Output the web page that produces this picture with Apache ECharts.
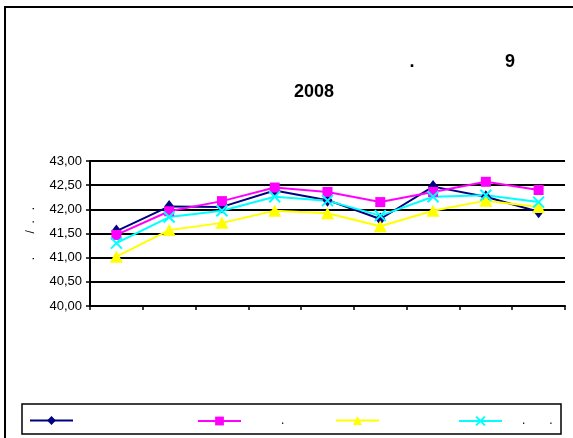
<!DOCTYPE html>
<html>
<head>
<meta charset="utf-8">
<script src="https://cdn.jsdelivr.net/npm/echarts@6/dist/echarts.min.js"></script>
<style>
  html, body { margin: 0; padding: 0; background: #fff; }
  #chart { width: 573px; height: 438px; }
</style>
</head>
<body>
<div id="chart"></div>
<script>
// months of 2008 (axis labels not readable in the picture)
const categories = ['1', '2', '3', '4', '5', '6', '7', '8', '9'];
const yTicks = [40, 40.5, 41, 41.5, 42, 42.5, 43];

const navyValues    = [41.55, 42.06, 42.05, 42.39, 42.19, 41.80, 42.47, 42.26, 41.95];
const magentaValues = [41.47, 41.96, 42.17, 42.45, 42.36, 42.15, 42.36, 42.57, 42.40];
const yellowValues  = [41.02, 41.57, 41.72, 41.97, 41.92, 41.65, 41.97, 42.18, 42.05];
const cyanValues    = [41.30, 41.84, 41.97, 42.26, 42.18, 41.87, 42.26, 42.29, 42.15];

const seriesNames = ['s1', 's2', 's3', 's4'];
const legendTexts = ['', '{a|.}', '', '{c|.}{b|.}'];

const font = 'Liberation Sans, Arial, sans-serif';

const chart = echarts.init(document.getElementById('chart'));

function line(name, data, color, symbol, size, extra) {
  return Object.assign({
    name: name,
    type: 'line',
    data: data,
    symbol: symbol,
    symbolSize: size,
    showSymbol: true,
    animation: false,
    lineStyle: { color: color, width: 2 },
    itemStyle: { color: color, borderColor: color, borderWidth: 0 }
  }, extra || {});
}

const crossPath = 'path://M0,0L10,10M10,0L0,10';

function legendAt(i, left) {
  return {
    data: [seriesNames[i]],
    left: left,
    top: 415,
    padding: 0,
    itemWidth: 43,
    itemHeight: 11,
    formatter: () => legendTexts[i],
    textStyle: {
      fontFamily: font, fontSize: 12, color: '#000',
      rich: {
        a: { fontFamily: font, fontSize: 12, padding: [0, 0, 0, 35] },
        b: { fontFamily: font, fontSize: 12, padding: [0, 0, 0, 24] },
        c: { fontFamily: font, fontSize: 12, padding: [0, 0, 0, 15] }
      }
    }
  };
}

const option = {
  backgroundColor: '#fff',
  animation: false,
  grid: { left: 90, right: 8, top: 161, bottom: 132 },
  legend: [
    legendAt(0, 29),
    legendAt(1, 197),
    legendAt(2, 335),
    legendAt(3, 458)
  ],
  xAxis: {
    type: 'category',
    data: categories,
    boundaryGap: true,
    axisLine: { lineStyle: { color: '#000', width: 2 } },
    axisTick: { show: true, length: 4, lineStyle: { color: '#000', width: 1.5 } },
    axisLabel: { show: false },
    splitLine: { show: false }
  },
  yAxis: {
    type: 'value',
    min: yTicks[0],
    max: yTicks[yTicks.length - 1],
    interval: 0.5,
    name: '.       /  .   .',
    nameLocation: 'middle',
    nameRotate: 90,
    nameGap: 53,
    nameTextStyle: { fontFamily: font, fontSize: 12, color: '#000' },
    axisLine: { show: true, lineStyle: { color: '#000', width: 2 } },
    axisTick: { show: true, length: 4, lineStyle: { color: '#000', width: 1.5 } },
    axisLabel: {
      fontFamily: font, fontSize: 13, color: '#000', margin: 8,
      formatter: v => v.toFixed(2).replace('.', ',')
    },
    splitLine: { show: true, lineStyle: { color: '#000', width: 2 } }
  },
  graphic: [
    { type: 'rect', shape: { x: 5, y: 7, width: 600, height: 460 },
      style: { fill: 'none', stroke: '#000', lineWidth: 2 }, z: -1 },
    { type: 'rect', shape: { x: 22, y: 404, width: 539, height: 30 },
      style: { fill: 'none', stroke: '#000', lineWidth: 1.5 }, z: -1 },
    { type: 'text', x: 412, y: 62, style: { text: '.', font: 'bold 18px ' + font, fill: '#000', align: 'center', verticalAlign: 'middle' } },
    { type: 'text', x: 510, y: 62, style: { text: '9', font: 'bold 18px ' + font, fill: '#000', align: 'center', verticalAlign: 'middle' } },
    { type: 'text', x: 314, y: 92, style: { text: '2008', font: 'bold 18px ' + font, fill: '#000', align: 'center', verticalAlign: 'middle' } }
  ],
  series: [
    line(seriesNames[0], navyValues, '#000080', 'diamond', [10, 13]),
    line(seriesNames[1], magentaValues, '#FF00FF', 'rect', 10),
    line(seriesNames[2], yellowValues, '#FFFF00', 'triangle', [13, 12]),
    line(seriesNames[3], cyanValues, '#00FFFF', crossPath, 11,
      { itemStyle: { color: 'rgba(0,0,0,0)', borderColor: '#00FFFF', borderWidth: 2 } })
  ]
};

chart.setOption(option);
</script>
</body>
</html>
